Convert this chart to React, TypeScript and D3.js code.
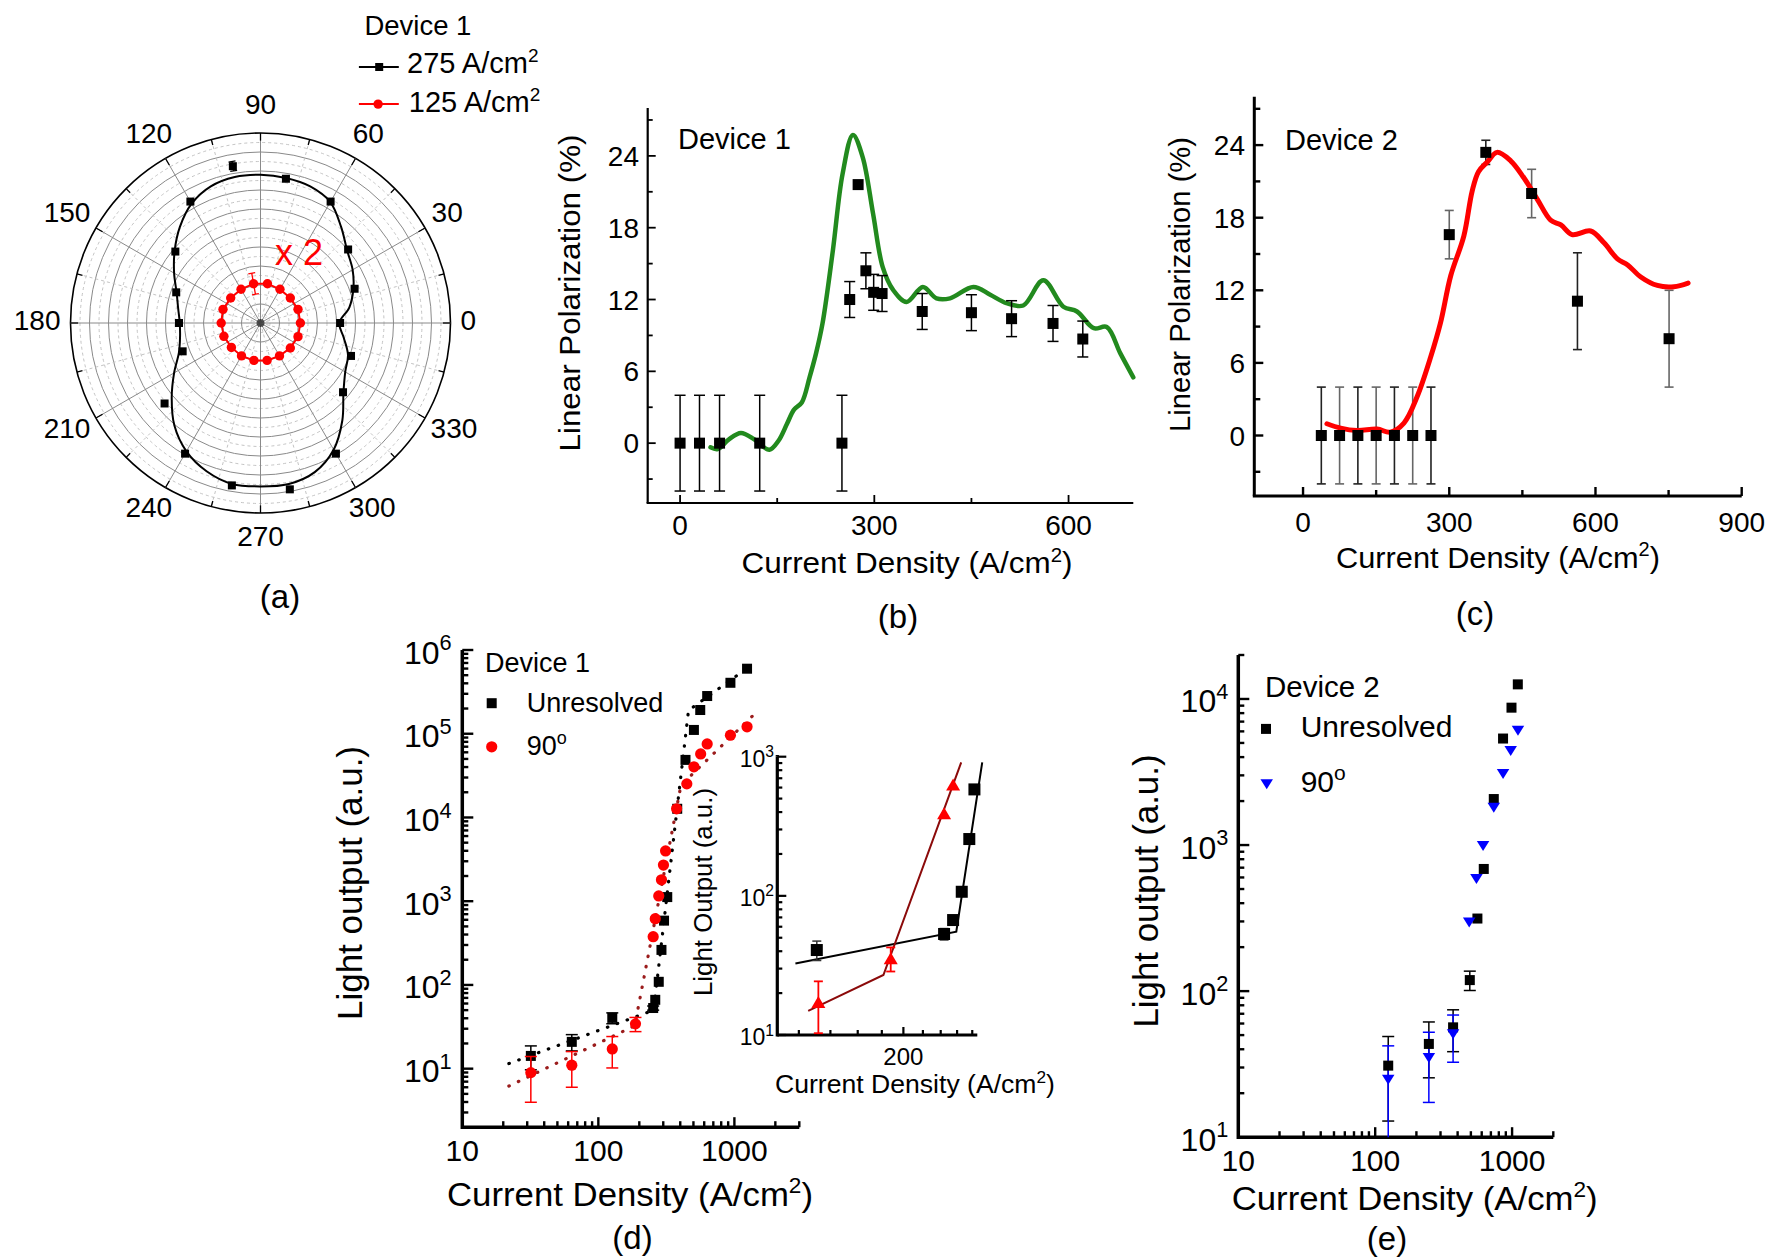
import React from "react";
import * as d3 from "d3";

const FONT = "'Liberation Sans', Arial, Helvetica, sans-serif";

// ---------- (a) polar plot, Device 1 ----------
const polarAngles = [0, 20, 40, 60, 80, 100, 120, 140, 160, 180, 200, 220, 240, 260, 280, 300, 320, 340];
const polar275 = [0.419, 0.527, 0.602, 0.738, 0.771, 0.838, 0.738, 0.585, 0.472, 0.429, 0.436, 0.659, 0.794, 0.868, 0.889, 0.794, 0.567, 0.507];
const polar275Err = [0, 0, 0, 0, 0, 0.025, 0, 0, 0, 0, 0, 0, 0, 0, 0, 0, 0, 0];
const polar125 = [0.21, 0.21, 0.205, 0.205, 0.21, 0.21, 0.205, 0.205, 0.21, 0.207, 0.205, 0.2, 0.2, 0.2, 0.2, 0.2, 0.205, 0.21];
const polar125Err = [0, 0, 0, 0, 0, 0.056, 0, 0, 0, 0, 0, 0, 0, 0, 0, 0, 0, 0];
const polarFitAngles = [0, 10, 20, 30, 40, 50, 60, 70, 80, 90, 100, 110, 120, 130, 140, 150, 160, 170, 180, 190, 200, 210, 220, 230, 240, 250, 260, 270, 280, 290, 300, 310, 320, 330, 340, 350];
const polarFit275 = [0.415, 0.475, 0.52, 0.56, 0.595, 0.66, 0.735, 0.765, 0.775, 0.78, 0.78, 0.765, 0.725, 0.66, 0.59, 0.525, 0.47, 0.44, 0.425, 0.43, 0.457, 0.525, 0.61, 0.705, 0.78, 0.83, 0.86, 0.86, 0.86, 0.835, 0.77, 0.67, 0.57, 0.515, 0.49, 0.445];
const polarTickLabels = [0, 30, 60, 90, 120, 150, 180, 210, 240, 270, 300, 330];

// ---------- (b) linear polarization, Device 1 ----------
const bX = [0, 30, 61, 123, 250, 262, 275, 287, 299, 312, 374, 450, 512, 576, 622];
const bY = [0, 0, 0, 0, 0, 12, 21.6, 14.4, 12.6, 12.5, 11.0, 10.9, 10.4, 10.0, 8.7];
const bErr = [4, 4, 4, 4, 4, 1.5, 0, 1.5, 1.5, 1.5, 1.5, 1.5, 1.5, 1.5, 1.5];
const bFitX = [47, 58, 75, 94, 115, 138, 152, 165, 176, 188, 200, 210, 220, 236, 251, 267, 282, 298, 313, 329, 350, 375, 396, 417, 453, 479, 504, 530, 561, 592, 613, 639, 659, 680, 700];
const bFitY = [-0.35, -0.5, 0.3, 0.85, 0.3, -0.55, 0.2, 1.6, 2.8, 3.4, 5.5, 7.5, 10, 16.1, 22.5, 25.75, 23.9, 19.2, 14.7, 12.8, 11.8, 13.05, 12.1, 12.1, 13.05, 12.4, 11.7, 11.5, 13.6, 11.4, 11.0, 9.6, 9.7, 7.5, 5.5];
const bTicksMajor = [0, 300, 600];
const bTicksMinor = [150, 450];
const polTicksMajor = [0, 6, 12, 18, 24];
const polTicksMinor = [-3, 3, 9, 15, 21, 27];

// ---------- (c) linear polarization, Device 2 ----------
const cX = [37.5, 75, 112.5, 150, 187.5, 225, 262.5, 300, 375, 469, 563, 751];
const cY = [0, 0, 0, 0, 0, 0, 0, 16.6, 23.4, 20.0, 11.1, 8.0];
const cErr = [4, 4, 4, 4, 4, 4, 4, 2, 1, 2, 4, 4];
const cFitX = [49, 77, 111, 152, 179, 207, 234, 262, 282, 303, 330, 347, 360, 378, 398, 426, 453, 481, 508, 529, 552, 590, 618, 645, 666, 693, 727, 761, 790];
const cFitY = [0.97, 0.61, 0.41, 0.53, 0.28, 1.03, 3.2, 6.5, 9.3, 13.2, 16.5, 20.2, 21.8, 22.6, 23.4, 22.7, 21.3, 19.5, 17.8, 17.4, 16.6, 16.9, 15.9, 14.6, 14.1, 13.1, 12.4, 12.3, 12.6];
const cTicksMajor = [0, 300, 600, 900];
const cTicksMinor = [150, 450, 750];

// ---------- (d) light output, Device 1 ----------
const dUnresX = [31.9, 63.8, 126.6, 253, 262, 278, 291, 304, 321, 380, 437, 504, 561, 631, 935, 1239];
const dUnresY = [14.2, 20.9, 40.4, 53, 66.4, 109, 262, 586, 1120, 12700, 48700, 111000, 192000, 282000, 406000, 598000];
const dUnresErr = [4.5, 4.6, 6, 3, 0, 0, 0, 0, 0, 0, 0, 0, 0, 0, 0, 0];
const d90X = [31.9, 63.8, 126.6, 187.5, 253, 262, 278, 291, 301, 312, 376, 447, 504, 565, 631, 935, 1239];
const d90Y = [8.97, 11.0, 17.2, 34.3, 377, 618, 1156, 1800, 2700, 3980, 12700, 25200, 40300, 57400, 75500, 96000, 121000];
const d90Err = [5, 5, 7, 6.6, 0, 0, 0, 0, 0, 0, 0, 0, 0, 0, 0, 0, 0];
const dFitUnresX = [22, 255, 460, 1300];
const dFitUnresY = [11.5, 50, 190000, 640000];
const dFit90X = [22, 185, 405, 1370];
const dFit90Y = [6.2, 32.5, 24300, 165000];

// inset of (d)
const iUnresX = [131, 244, 255, 266, 276, 283];
const iUnresY = [40.8, 53.2, 67, 107, 256, 582];
const iUnresErr = [6.5, 5, 0, 0, 0, 0];
const i90X = [132, 188, 244, 255];
const i90Y = [17.3, 35.6, 392, 631];
const i90Err = [7, 7, 0, 0];
const iFitUnresX = [118, 259, 294];
const iFitUnresY = [32.7, 55.2, 910];
const iFit90X = [125.6, 181.4, 265.3];
const iFit90Y = [14.9, 27, 910];

// ---------- (e) light output, Device 2 ----------
const eUnresX = [124.5, 246.6, 370.7, 491, 558, 621, 735, 859, 990, 1101];
const eUnresY = [30.9, 43.5, 56.5, 119, 314, 686, 2065, 5360, 8720, 12590];
const eUnresErr = [18, 18, 18, 18, 0, 0, 0, 0, 0, 0];
const e90X = [124.5, 246.6, 370.7, 486, 549, 614, 735, 859, 977, 1104];
const e90Y = [24.7, 34.8, 50.6, 295, 586, 985, 1800, 3060, 4400, 6070];
const e90Err = [17.5, 17.5, 18, 0, 0, 0, 0, 0, 0, 0];

const isDecade = (v: number) => Math.abs(Math.log10(v) - Math.round(Math.log10(v))) < 1e-6;

function Pow({ exp, fs }: { exp: string | number; fs: number }) {
  return (
    <>
      10
      <tspan dy={-fs * 0.42} fontSize={fs * 0.68}>{exp}</tspan>
    </>
  );
}

function CurrentDensity({ fs }: { fs: number }) {
  return (
    <>
      Current Density (A/cm
      <tspan dy={-fs * 0.38} fontSize={fs * 0.65}>2</tspan>
      <tspan dy={fs * 0.38}>)</tspan>
    </>
  );
}

function ErrBar({ x, y1, y2, cap, color, sw, capTop = true, capBottom = true }: any) {
  return (
    <g stroke={color} strokeWidth={sw}>
      <line x1={x} x2={x} y1={y1} y2={y2} />
      {capTop && <line x1={x - cap / 2} x2={x + cap / 2} y1={y1} y2={y1} />}
      {capBottom && <line x1={x - cap / 2} x2={x + cap / 2} y1={y2} y2={y2} />}
    </g>
  );
}

function PolarPanel() {
  const cx = 260.5;
  const cy = 323;
  const R = 190;
  const r = d3.scaleLinear().domain([0, 1]).range([0, R]);
  const pt = (deg: number, v: number): [number, number] => {
    const a = (deg * Math.PI) / 180;
    return [cx + r(v) * Math.cos(a), cy - r(v) * Math.sin(a)];
  };
  const rings = d3.range(1, 21).map((i) => i * 0.05);
  const spokes = d3.range(0, 360, 15);
  const closed = d3.line<[number, number]>().curve(d3.curveCatmullRomClosed.alpha(0.5));
  const linear = d3.line<[number, number]>().curve(d3.curveLinearClosed);
  const fitPts = polarFitAngles.map((a, i) => pt(a, polarFit275[i]));
  const redPts = polarAngles.map((a, i) => pt(a, polar125[i]));
  const fs = 28;

  const radialErr = (deg: number, v: number, e: number, color: string) => {
    if (!e) return null;
    const [x1, y1] = pt(deg, v - e);
    const [x2, y2] = pt(deg, v + e);
    const a = (deg * Math.PI) / 180;
    const tx = 3.5 * Math.sin(a);
    const ty = 3.5 * Math.cos(a);
    return (
      <g stroke={color} strokeWidth={1.3}>
        <line x1={x1} y1={y1} x2={x2} y2={y2} />
        <line x1={x1 - tx} y1={y1 - ty} x2={x1 + tx} y2={y1 + ty} />
        <line x1={x2 - tx} y1={y2 - ty} x2={x2 + tx} y2={y2 + ty} />
      </g>
    );
  };

  return (
    <g>
      {rings.map((v, i) => (
        <circle
          key={"ring" + i}
          cx={cx}
          cy={cy}
          r={r(v)}
          fill="none"
          stroke={i === 19 ? "#000" : i % 2 === 1 ? "#8a8a8a" : "#c4c4c4"}
          strokeWidth={i === 19 ? 1.6 : 1}
          strokeDasharray={i % 2 === 0 && i !== 19 ? "3 3" : undefined}
        />
      ))}
      {spokes.map((a) => {
        const [x2, y2] = pt(a, 1);
        return (
          <line
            key={"sp" + a}
            x1={cx}
            y1={cy}
            x2={x2}
            y2={y2}
            stroke={a % 30 === 0 ? "#8a8a8a" : "#c4c4c4"}
            strokeWidth={1}
            strokeDasharray={a % 30 === 0 ? undefined : "3 3"}
          />
        );
      })}
      {spokes.map((a) => {
        const [x1, y1] = pt(a, 1);
        const [x2, y2] = pt(a, a % 30 === 0 ? 0.96 : 0.97);
        return <line key={"tk" + a} x1={x1} y1={y1} x2={x2} y2={y2} stroke="#000" strokeWidth={1.3} />;
      })}
      <circle cx={cx} cy={cy} r={4} fill="#000" opacity={0.6} />
      <path d={closed(fitPts) || ""} fill="none" stroke="#000" strokeWidth={2} />
      <path d={linear(redPts) || ""} fill="none" stroke="#ff0000" strokeWidth={2} />
      {polarAngles.map((a, i) => (
        <g key={"e" + a}>{radialErr(a, polar125[i], polar125Err[i], "#ff0000")}</g>
      ))}
      {redPts.map(([x, y], i) => (
        <circle key={"rp" + i} cx={x} cy={y} r={4.7} fill="#ff0000" />
      ))}
      {polarAngles.map((a, i) => (
        <g key={"be" + a}>{radialErr(a, polar275[i], polar275Err[i], "#000")}</g>
      ))}
      {polarAngles.map((a, i) => {
        const [x, y] = pt(a, polar275[i]);
        return <rect key={"bp" + a} x={x - 4} y={y - 4} width={8} height={8} fill="#000" />;
      })}
      {polarTickLabels.map((a) => {
        const rad = (a * Math.PI) / 180;
        const w = String(a).length * 0.556 * fs;
        const lx = cx + Math.cos(rad) * (R + 10) + (Math.cos(rad) * w) / 2;
        const ly = cy - Math.sin(rad) * (R + 16) - Math.sin(rad) * 10 - 3;
        return (
          <text key={"pl" + a} x={lx} y={ly + fs * 0.36} fontSize={fs} textAnchor="middle">
            {a}
          </text>
        );
      })}
      <text x={275} y={265} fontSize={36} fill="#ff0000">x 2</text>
      <text x={364.4} y={35.2} fontSize={27.5}>Device 1</text>
      <line x1={358.9} x2={398.8} y1={67} y2={67} stroke="#000" strokeWidth={2} />
      <rect x={379.2 - 4} y={67 - 4} width={8} height={8} fill="#000" />
      <text x={407} y={72.7} fontSize={29}>
        275 A/cm<tspan dy={-11} fontSize={19}>2</tspan>
      </text>
      <line x1={358.9} x2={398.8} y1={104.1} y2={104.1} stroke="#ff0000" strokeWidth={2} />
      <circle cx={378.1} cy={104.1} r={4.7} fill="#ff0000" />
      <text x={408.8} y={111.7} fontSize={29}>
        125 A/cm<tspan dy={-11} fontSize={19}>2</tspan>
      </text>
      <text x={280} y={608} fontSize={33} textAnchor="middle">(a)</text>
    </g>
  );
}

function LinPanel(props: any) {
  const { x, y, xMajor, xMinor, yMajor, yMinor, axisW, tickW, majLen, minLen, xLabY, yLabX, fs } = props;
  const [x0, x1] = x.range();
  const [y0, y1] = y.range();
  return (
    <g>
      <line x1={x0} x2={x0} y1={y0} y2={y1} stroke="#000" strokeWidth={axisW} />
      <line x1={x0 - axisW / 2} x2={x1} y1={y0} y2={y0} stroke="#000" strokeWidth={axisW} />
      {xMajor.map((v: number) => (
        <line key={"xM" + v} x1={x(v)} x2={x(v)} y1={y0} y2={y0 - majLen} stroke="#000" strokeWidth={tickW} />
      ))}
      {xMinor.map((v: number) => (
        <line key={"xm" + v} x1={x(v)} x2={x(v)} y1={y0} y2={y0 - minLen} stroke="#000" strokeWidth={tickW} />
      ))}
      {yMajor.map((v: number) => (
        <line key={"yM" + v} x1={x0} x2={x0 + majLen} y1={y(v)} y2={y(v)} stroke="#000" strokeWidth={tickW} />
      ))}
      {yMinor.map((v: number) => (
        <line key={"ym" + v} x1={x0} x2={x0 + minLen} y1={y(v)} y2={y(v)} stroke="#000" strokeWidth={tickW} />
      ))}
      {xMajor.map((v: number) => (
        <text key={"xl" + v} x={x(v)} y={xLabY} fontSize={fs} textAnchor="middle">{v}</text>
      ))}
      {yMajor.map((v: number) => (
        <text key={"yl" + v} x={yLabX} y={y(v) + fs * 0.36} fontSize={fs} textAnchor="end">{v}</text>
      ))}
    </g>
  );
}

function PanelB() {
  const x = d3.scaleLinear().domain([-50, 700]).range([647.7, 1133.3]);
  const y = d3.scaleLinear().domain([-5, 28]).range([503, 108]);
  const line = d3
    .line<number>()
    .x((d) => x(d))
    .y((_, i) => y(bFitY[i]))
    .curve(d3.curveCatmullRom.alpha(0.5));
  return (
    <g>
      <LinPanel x={x} y={y} xMajor={bTicksMajor} xMinor={bTicksMinor} yMajor={polTicksMajor} yMinor={polTicksMinor}
        axisW={2.2} tickW={1.8} majLen={8} minLen={5} xLabY={535} yLabX={639} fs={28} />
      <path d={line(bFitX) || ""} fill="none" stroke="#228a1e" strokeWidth={4.5} strokeLinecap="round" />
      {bX.map((v, i) =>
        bErr[i] ? (
          <ErrBar key={"be" + i} x={x(v)} y1={y(bY[i] + bErr[i])} y2={y(bY[i] - bErr[i])} cap={11} color="#000" sw={1.5} />
        ) : null
      )}
      {bX.map((v, i) => (
        <rect key={"bs" + i} x={x(v) - 5.5} y={y(bY[i]) - 5.5} width={11} height={11} fill="#000" />
      ))}
      <text x={678} y={149.3} fontSize={29}>Device 1</text>
      <text transform="translate(580,293) rotate(-90)" fontSize={30} textAnchor="middle" textLength={317} lengthAdjust="spacingAndGlyphs">
        Linear Polarization (%)
      </text>
      <text x={907} y={573} fontSize={30} textAnchor="middle" textLength={331} lengthAdjust="spacingAndGlyphs">
        <CurrentDensity fs={30} />
      </text>
      <text x={898} y={628} fontSize={33} textAnchor="middle">(b)</text>
    </g>
  );
}

function PanelC() {
  const x = d3.scaleLinear().domain([-100, 900]).range([1254.3, 1741.7]);
  const y = d3.scaleLinear().domain([-5, 28]).range([496, 96.7]);
  const line = d3
    .line<number>()
    .x((d) => x(d))
    .y((_, i) => y(cFitY[i]))
    .curve(d3.curveCatmullRom.alpha(0.5));
  return (
    <g>
      <LinPanel x={x} y={y} xMajor={cTicksMajor} xMinor={cTicksMinor} yMajor={polTicksMajor} yMinor={polTicksMinor}
        axisW={3} tickW={2.4} majLen={9} minLen={6} xLabY={531.7} yLabX={1245} fs={28} />
      {cX.map((v, i) => (
        <ErrBar key={"ce" + i} x={x(v)} y1={y(cY[i] + cErr[i])} y2={y(cY[i] - cErr[i])} cap={9} color={i % 2 ? "#666" : "#222"} sw={1.6} />
      ))}
      <path d={line(cFitX) || ""} fill="none" stroke="#ff0000" strokeWidth={5} strokeLinecap="round" />
      {cX.map((v, i) => (
        <rect key={"cs" + i} x={x(v) - 5.5} y={y(cY[i]) - 5.5} width={11} height={11} fill="#000" />
      ))}
      <text x={1285} y={150} fontSize={29}>Device 2</text>
      <text transform="translate(1190,284.5) rotate(-90)" fontSize={30} textAnchor="middle" textLength={295} lengthAdjust="spacingAndGlyphs">
        Linear Polarization (%)
      </text>
      <text x={1498} y={567.7} fontSize={30} textAnchor="middle" textLength={324} lengthAdjust="spacingAndGlyphs">
        <CurrentDensity fs={30} />
      </text>
      <text x={1475} y={625} fontSize={33} textAnchor="middle">(c)</text>
    </g>
  );
}

function LogAxes(props: any) {
  const { x, y, axisW, tickW, yMaj, yMin, xMaj, xMin, fs, xLabY, yLabX, xLabels, yLabelFn, xLinearLabels } = props;
  const [x0, x1] = x.range();
  const [y0, y1] = y.range();
  const dx = x.domain();
  const dy = y.domain();
  const xt = x.ticks().filter((v: number) => v >= dx[0] * 0.999 && v <= dx[1] * 1.001);
  const yt = y.ticks().filter((v: number) => v >= dy[0] * 0.999 && v <= dy[1] * 1.001);
  const xIsMajor = xLinearLabels ? (v: number) => xLabels.includes(v) : isDecade;
  return (
    <g>
      <line x1={x0} x2={x0} y1={y0 + axisW / 2} y2={y1} stroke="#000" strokeWidth={axisW} />
      <line x1={x0} x2={x1} y1={y0} y2={y0} stroke="#000" strokeWidth={axisW} />
      {xt.map((v: number) => (
        <line key={"xt" + v} x1={x(v)} x2={x(v)} y1={y0} y2={y0 - (xIsMajor(v) ? xMaj : xMin)} stroke="#000" strokeWidth={tickW} />
      ))}
      {yt.map((v: number) => (
        <line key={"yt" + v} x1={x0} x2={x0 + (isDecade(v) ? yMaj : yMin)} y1={y(v)} y2={y(v)} stroke="#000" strokeWidth={tickW} />
      ))}
      {xLabels.map((v: number) => (
        <text key={"xl" + v} x={x(v)} y={xLabY} fontSize={fs} textAnchor="middle">{v}</text>
      ))}
      {yt.filter(isDecade).map((v: number) => (
        <text key={"yl" + v} x={yLabX} y={y(v) + (yLabelFn || fs) * 0.36 + 2} fontSize={yLabelFn || fs} textAnchor="end">
          <Pow exp={Math.round(Math.log10(v))} fs={yLabelFn || fs} />
        </text>
      ))}
    </g>
  );
}

function PanelD() {
  const x = d3.scaleLog().domain([10, 3000]).range([462.3, 799.3]);
  const y = d3.scaleLog().domain([2, 1e6]).range([1127.2, 650]);
  const fitLine = (xs: number[], ys: number[]) =>
    d3.line<number>().x((d) => x(d)).y((_, i) => y(ys[i]))(xs) || "";

  const xi = d3.scaleLog().domain([108, 287]).range([777.3, 977.3]);
  const yi = d3.scaleLog().domain([10, 1000]).range([1035, 756.7]);
  const insetLine = (xs: number[], ys: number[]) =>
    d3.line<number>().x((d) => xi(d)).y((_, i) => yi(ys[i]))(xs) || "";
  const tri = (cxp: number, cyp: number, w: number, h: number) =>
    `M${cxp - w / 2},${cyp + h / 2}L${cxp + w / 2},${cyp + h / 2}L${cxp},${cyp - h / 2}Z`;

  return (
    <g>
      <LogAxes x={x} y={y} axisW={3.5} tickW={2.4} yMaj={11} yMin={6} xMaj={10} xMin={6}
        fs={30} xLabY={1161} yLabX={451.7} xLabels={[10, 100, 1000]} yLabelFn={32} />
      <path d={fitLine(dFitUnresX, dFitUnresY)} fill="none" stroke="#000" strokeWidth={3.2} strokeDasharray="0.5 10" strokeLinecap="round" />
      <path d={fitLine(dFit90X, dFit90Y)} fill="none" stroke="#9b1c1c" strokeWidth={3.2} strokeDasharray="0.5 10" strokeLinecap="round" />
      {dUnresX.map((v, i) =>
        dUnresErr[i] ? (
          <ErrBar key={"de" + i} x={x(v)} y1={y(dUnresY[i] + dUnresErr[i])} y2={y(dUnresY[i] - dUnresErr[i])} cap={12} color="#000" sw={1.5} />
        ) : null
      )}
      {dUnresX.map((v, i) => (
        <rect key={"ds" + i} x={x(v) - 5} y={y(dUnresY[i]) - 5} width={10} height={10} fill="#000" />
      ))}
      {d90X.map((v, i) =>
        d90Err[i] ? (
          <ErrBar key={"dre" + i} x={x(v)} y1={y(d90Y[i] + d90Err[i])} y2={y(d90Y[i] - d90Err[i])} cap={12} color="#ff0000" sw={1.5} />
        ) : null
      )}
      {d90X.map((v, i) => (
        <circle key={"dc" + i} cx={x(v)} cy={y(d90Y[i])} r={5.6} fill="#ff0000" />
      ))}
      {/* legend */}
      <text x={485} y={672} fontSize={27}>Device 1</text>
      <rect x={491.7 - 5} y={703.2 - 5} width={10} height={10} fill="#000" />
      <text x={526.7} y={712} fontSize={27}>Unresolved</text>
      <circle cx={491.7} cy={746.8} r={5.6} fill="#ff0000" />
      <text x={526.7} y={754.8} fontSize={27}>
        90<tspan dy={-11} fontSize={18}>o</tspan>
      </text>
      <text transform="translate(361.7,883) rotate(-90)" fontSize={35} textAnchor="middle" textLength={274} lengthAdjust="spacingAndGlyphs">
        Light output (a.u.)
      </text>
      <text x={630} y={1206} fontSize={34} textAnchor="middle" textLength={366} lengthAdjust="spacingAndGlyphs">
        <CurrentDensity fs={34} />
      </text>
      <text x={632.5} y={1249} fontSize={33} textAnchor="middle">(d)</text>

      {/* inset */}
      <LogAxes x={xi} y={yi} axisW={3.2} tickW={2.2} yMaj={9} yMin={5} xMaj={8} xMin={5}
        fs={24} xLabY={1065} yLabX={774} xLabels={[200]} yLabelFn={23} xLinearLabels />
      <line x1={777.3} x2={777.3} y1={756.7} y2={755} stroke="#000" strokeWidth={3.2} />
      <path d={insetLine(iFitUnresX, iFitUnresY)} fill="none" stroke="#000" strokeWidth={2} />
      <path d={insetLine(iFit90X, iFit90Y)} fill="none" stroke="#8b0a0a" strokeWidth={2} />
      {iUnresX.map((v, i) =>
        iUnresErr[i] ? (
          <ErrBar key={"ie" + i} x={xi(v)} y1={yi(iUnresY[i] + iUnresErr[i])} y2={yi(iUnresY[i] - iUnresErr[i])} cap={9} color="#333" sw={1.5} />
        ) : null
      )}
      {iUnresX.map((v, i) => (
        <rect key={"is" + i} x={xi(v) - 6} y={yi(iUnresY[i]) - 6} width={12} height={12} fill="#000" />
      ))}
      {i90X.map((v, i) =>
        i90Err[i] ? (
          <ErrBar key={"ire" + i} x={xi(v)} y1={yi(i90Y[i] + i90Err[i])} y2={yi(i90Y[i] - i90Err[i])} cap={9} color="#ff0000" sw={1.8} />
        ) : null
      )}
      {i90X.map((v, i) => (
        <path key={"it" + i} d={tri(xi(v), yi(i90Y[i]), 14, 12)} fill="#ff0000" />
      ))}
      <text transform="translate(711.7,892) rotate(-90)" fontSize={25} textAnchor="middle" textLength={208} lengthAdjust="spacingAndGlyphs">
        Light Output (a.u.)
      </text>
      <text x={775} y={1093} fontSize={26} textLength={280} lengthAdjust="spacingAndGlyphs">
        <CurrentDensity fs={26} />
      </text>
    </g>
  );
}

function PanelE() {
  const x = d3.scaleLog().domain([10, 2000]).range([1238.3, 1553.3]);
  const y = d3.scaleLog().domain([10, 20000]).range([1137.2, 655]);
  const yMin = y.domain()[0];
  const triDown = (cxp: number, cyp: number, w: number, h: number) =>
    `M${cxp - w / 2},${cyp - h / 2}L${cxp + w / 2},${cyp - h / 2}L${cxp},${cyp + h / 2}Z`;
  return (
    <g>
      <LogAxes x={x} y={y} axisW={3.5} tickW={2.4} yMaj={11} yMin={6} xMaj={10} xMin={6}
        fs={30} xLabY={1171} yLabX={1228.3} xLabels={[10, 100, 1000]} yLabelFn={32} />
      {eUnresX.map((v, i) => {
        if (!eUnresErr[i]) return null;
        const lo = Math.max(eUnresY[i] - eUnresErr[i], yMin);
        return (
          <ErrBar key={"ee" + i} x={x(v)} y1={y(eUnresY[i] + eUnresErr[i])} y2={y(lo)} cap={12} color="#000" sw={1.5}
            capBottom={lo > yMin} />
        );
      })}
      {e90X.map((v, i) => {
        if (!e90Err[i]) return null;
        const lo = Math.max(e90Y[i] - e90Err[i], yMin);
        return (
          <ErrBar key={"ebe" + i} x={x(v)} y1={y(e90Y[i] + e90Err[i])} y2={y(lo)} cap={12} color="#0000ff" sw={1.5}
            capBottom={lo > yMin} />
        );
      })}
      {eUnresX.map((v, i) => (
        <rect key={"es" + i} x={x(v) - 5} y={y(eUnresY[i]) - 5} width={10} height={10} fill="#000" />
      ))}
      {e90X.map((v, i) => (
        <path key={"et" + i} d={triDown(x(v), y(e90Y[i]), 12.5, 10)} fill="#0000ff" />
      ))}
      <text x={1265} y={697.3} fontSize={29.5}>Device 2</text>
      <rect x={1266 - 5} y={728.9 - 5} width={10} height={10} fill="#000" />
      <text x={1300.7} y={736.8} fontSize={30}>Unresolved</text>
      <path d={triDown(1266.7, 784.3, 12.5, 10)} fill="#0000ff" />
      <text x={1300.7} y={792.2} fontSize={30}>
        90<tspan dy={-12} fontSize={21}>o</tspan>
      </text>
      <text transform="translate(1158.3,891) rotate(-90)" fontSize={35} textAnchor="middle" textLength={273} lengthAdjust="spacingAndGlyphs">
        Light output (a.u.)
      </text>
      <text x={1414.7} y={1210} fontSize={34} textAnchor="middle" textLength={366} lengthAdjust="spacingAndGlyphs">
        <CurrentDensity fs={34} />
      </text>
      <text x={1387} y={1250} fontSize={33} textAnchor="middle">(e)</text>
    </g>
  );
}

export default function App() {
  return (
    <svg
      width={1771}
      height={1260}
      style={{ position: "absolute", left: 0, top: 0, display: "block" }}
      fontFamily={FONT}
    >
      <rect width={1771} height={1260} fill="#fff" />
      <PolarPanel />
      <PanelB />
      <PanelC />
      <PanelD />
      <PanelE />
    </svg>
  );
}
